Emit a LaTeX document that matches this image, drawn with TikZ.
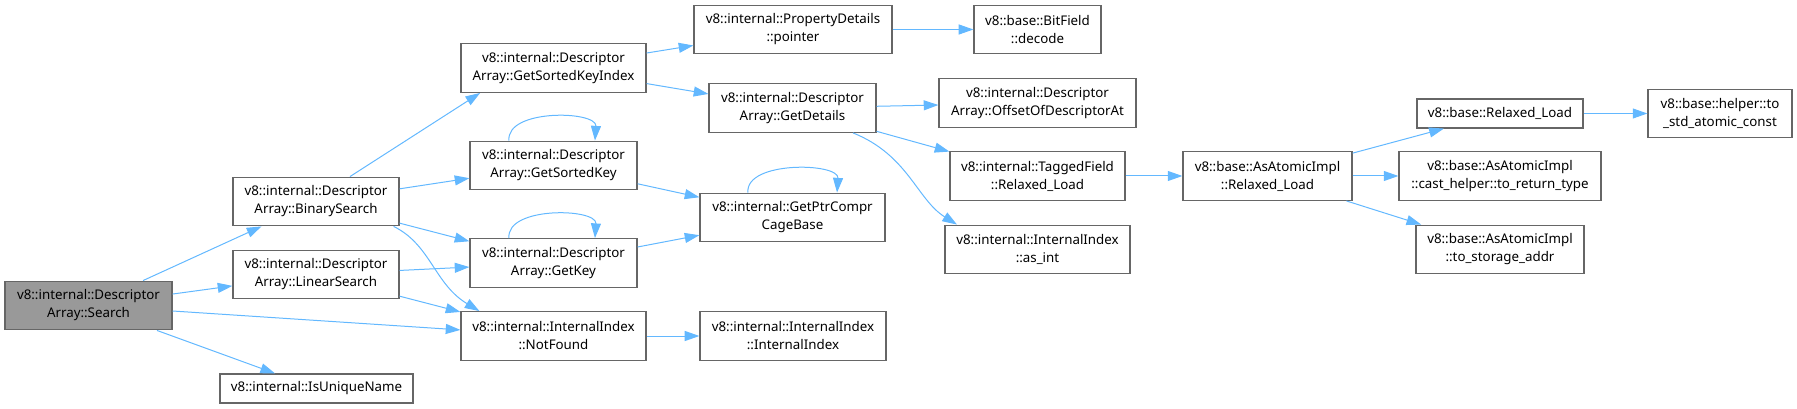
\documentclass[tikz,border=0pt]{standalone}
\usepackage{fontspec}
\setmainfont{Noto Sans}
\usetikzlibrary{arrows.meta, calc}
\definecolor{azul}{HTML}{63B8FF}
\definecolor{borde}{HTML}{666666}
\definecolor{gris}{HTML}{999999}

\begin{document}
\begin{tikzpicture}[x=0.75pt, y=-0.75pt,
  caja/.style={draw=borde, line width=0.9pt, fill=white, inner sep=0pt, align=center,
    minimum height=36.5pt, font=\fontsize{10}{13.5}\selectfont},
  caja1/.style={caja, minimum height=21.75pt},
  llamada/.style={draw=azul, line width=0.75pt, -{Triangle[length=11pt,width=7.5pt]}}]
\useasboundingbox (0,0) rectangle (1797,409);

% Columna 1
\node[caja, fill=gris, minimum width=125.25pt] (search) at (88.5,305.5) {v8::internal::Descriptor\\Array::Search};

% Columna 2
\node[caja, minimum width=124.5pt] (bsearch) at (316,201.5) {v8::internal::Descriptor\\Array::BinarySearch};
\node[caja, minimum width=124.5pt] (lsearch) at (316,274.5) {v8::internal::Descriptor\\Array::LinearSearch};
\node[caja1, minimum width=144.75pt] (unique) at (316.5,388.5) {v8::internal::IsUniqueName};

% Columna 3
\node[caja, minimum width=138.75pt] (keyindex) at (553.5,68) {v8::internal::Descriptor\\Array::GetSortedKeyIndex};
\node[caja, minimum width=125.25pt] (sortedkey) at (553.5,165.5) {v8::internal::Descriptor\\Array::GetSortedKey};
\node[caja, minimum width=125.25pt] (getkey) at (553.5,263) {v8::internal::Descriptor\\Array::GetKey};
\node[caja, minimum width=138.75pt] (notfound) at (553.5,336) {v8::internal::InternalIndex\\::NotFound};

% Columna 4
\node[caja, minimum width=148.5pt] (pointer) at (793,29.5) {v8::internal::PropertyDetails\\::pointer};
\node[caja, minimum width=125.25pt] (details) at (792.5,108) {v8::internal::Descriptor\\Array::GetDetails};
\node[caja, minimum width=138.75pt] (cagebase) at (792.5,217.5) {v8::internal::GetPtrCompr\\CageBase};
\node[caja, minimum width=139.5pt] (iindex) at (793,336) {v8::internal::InternalIndex\\::InternalIndex};

% Columna 5
\node[caja, minimum width=95.25pt] (decode) at (1037.5,29.5) {v8::base::BitField\\::decode};
\node[caja, minimum width=147.75pt] (offset) at (1037.5,103) {v8::internal::Descriptor\\Array::OffsetOfDescriptorAt};
\node[caja, minimum width=131.25pt] (tagged) at (1037.5,176) {v8::internal::TaggedField\\::Relaxed\_Load};
\node[caja, minimum width=138.75pt] (asint) at (1037.5,249.5) {v8::internal::InternalIndex\\::as\_int};

% Columnas 6 a 8
\node[caja, minimum width=126.75pt] (atomicload) at (1267.5,176) {v8::base::AsAtomicImpl\\::Relaxed\_Load};
\node[caja1, minimum width=124.5pt] (relaxedload) at (1500,113.5) {v8::base::Relaxed\_Load};
\node[caja, minimum width=151.5pt] (rettype) at (1500,176) {v8::base::AsAtomicImpl\\::cast\_helper::to\_return\_type};
\node[caja, minimum width=126pt] (storage) at (1500,249.5) {v8::base::AsAtomicImpl\\::to\_storage\_addr};
\node[caja, minimum width=108pt] (stdconst) at (1720,113.5) {v8::base::helper::to\\\_std\_atomic\_const};

% Llamadas
\draw[llamada] (search) -- (bsearch);
\draw[llamada] (search) -- (lsearch);
\draw[llamada] (search) -- (notfound);
\draw[llamada] (search) -- (unique);
\draw[llamada] ([xshift=25.5pt]bsearch.north) -- ([xshift=-55pt]keyindex.south);
\draw[llamada] (bsearch) -- (sortedkey);
\draw[llamada] (bsearch) -- (getkey);
\draw[llamada] ([xshift=-4.5pt]bsearch.south east) .. controls +(37,18) and +(-45,-27) .. ([xshift=14.25pt]notfound.north west);
\draw[llamada] (lsearch) -- (getkey);
\draw[llamada] (lsearch) -- (notfound);
\draw[llamada] (keyindex) -- (pointer);
\draw[llamada] (keyindex) -- (details);
\draw[llamada] (sortedkey) -- (cagebase);
\draw[llamada] (getkey) -- (cagebase);
\draw[llamada] (notfound) -- (iindex);
\draw[llamada] (pointer) -- (decode);
\draw[llamada] (details) -- (offset);
\draw[llamada] (details) -- (tagged);
\draw[llamada] ([xshift=45.4pt]details.south) .. controls +(55,22) and +(-40,-25) .. ([xshift=-60.4pt]asint.north);
\draw[llamada] (tagged) -- (atomicload);
\draw[llamada] (atomicload) -- (relaxedload);
\draw[llamada] (atomicload) -- (rettype);
\draw[llamada] (atomicload) -- (storage);
\draw[llamada] (relaxedload) -- (stdconst);

% Recursivas
\draw[llamada] ([xshift=-33.4pt]sortedkey.north) .. controls +(-3,-32) and +(2,-30) .. ([xshift=31.1pt]sortedkey.north);
\draw[llamada] ([xshift=-33.4pt]getkey.north) .. controls +(-3,-32) and +(2,-30) .. ([xshift=31.1pt]getkey.north);
\draw[llamada] ([xshift=-33.4pt]cagebase.north) .. controls +(-3,-32) and +(2,-30) .. ([xshift=33.4pt]cagebase.north);
\end{tikzpicture}
\end{document}
